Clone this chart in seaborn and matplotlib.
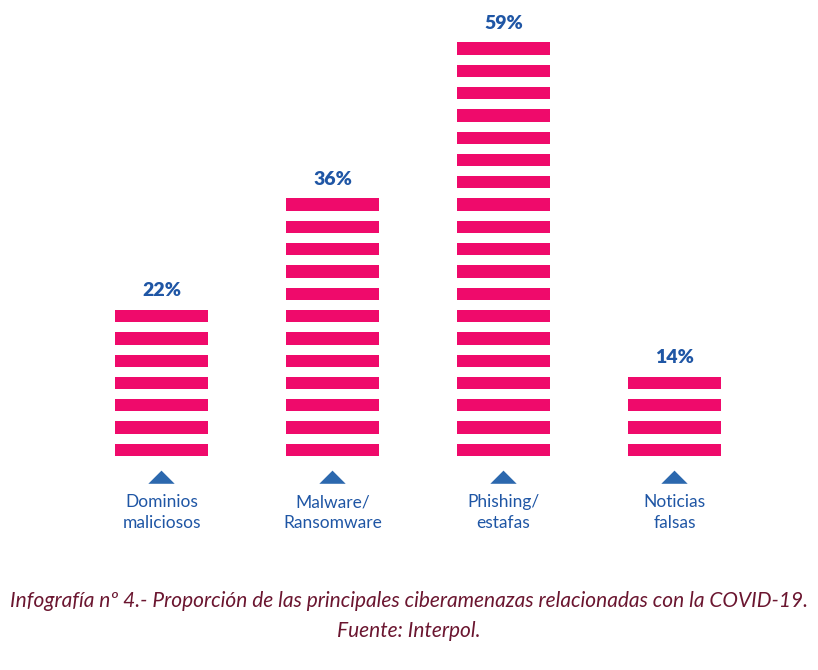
import matplotlib
matplotlib.use("Agg")
import matplotlib.pyplot as plt
import seaborn as sns
import pandas as pd

categories = ["Dominios\nmaliciosos", "Malware/\nRansomware", "Phishing/\nestafas", "Noticias\nfalsas"]
percent_labels = ["22%", "36%", "59%", "14%"]
stripe_counts = [7, 12, 19, 4]

caption = ("Infografía nº 4.- Proporción de las principales ciberamenazas relacionadas con la COVID-19.\n"
           "Fuente: Interpol.")

PINK = "#EF0A6B"
BLUE = "#1F56A5"
TRI = "#2C68AE"
CAP = "#6B1630"
GAP = 0.45

sns.set_theme(style="white")
plt.rcParams["font.family"] = ["Lato", "DejaVu Sans"]

df = pd.DataFrame({"cat": categories, "n": stripe_counts, "lab": percent_labels})

fig = plt.figure(figsize=(8.18, 6.70), dpi=100)
ax = fig.add_axes([76 / 818, (670 - 491.7) / 670, 684 / 818, (491.7 - 10) / 670])

sns.barplot(data=df, x="cat", y="n", color=PINK, width=0.545, saturation=1,
            edgecolor="none", ax=ax, zorder=2)

for k in range(1, 22):
    ax.axhspan(k - GAP, k, color="white", zorder=3, lw=0)

# triangles below each bar
tri = [(-1, -0.5), (1, -0.5), (0, 0.5)]
sns.scatterplot(x=df["cat"], y=[-0.95] * len(df), marker=tri, s=360, color=TRI,
                edgecolor="none", ax=ax, zorder=4, legend=False)

for i, row in df.iterrows():
    ax.text(i, row["n"] - GAP + 0.85, row["lab"], ha="center", va="center",
            color=BLUE, fontsize=14, fontweight="heavy", zorder=5)

ax.set_xlim(-0.5, 3.5)
ax.set_ylim(-1.6, 20)
ax.set_xlabel("")
ax.set_ylabel("")
ax.set_yticks([])
ax.tick_params(axis="x", length=0, pad=2, labelsize=12.5, labelcolor=BLUE)
for t in ax.get_xticklabels():
    t.set_linespacing(1.35)
sns.despine(ax=ax, left=True, bottom=True)

fig.text(0.5, (670 - 616) / 670, caption, ha="center", va="center", style="italic",
         color=CAP, fontsize=15, linespacing=1.6)

fig.savefig("out.png", dpi=100, facecolor="white")
